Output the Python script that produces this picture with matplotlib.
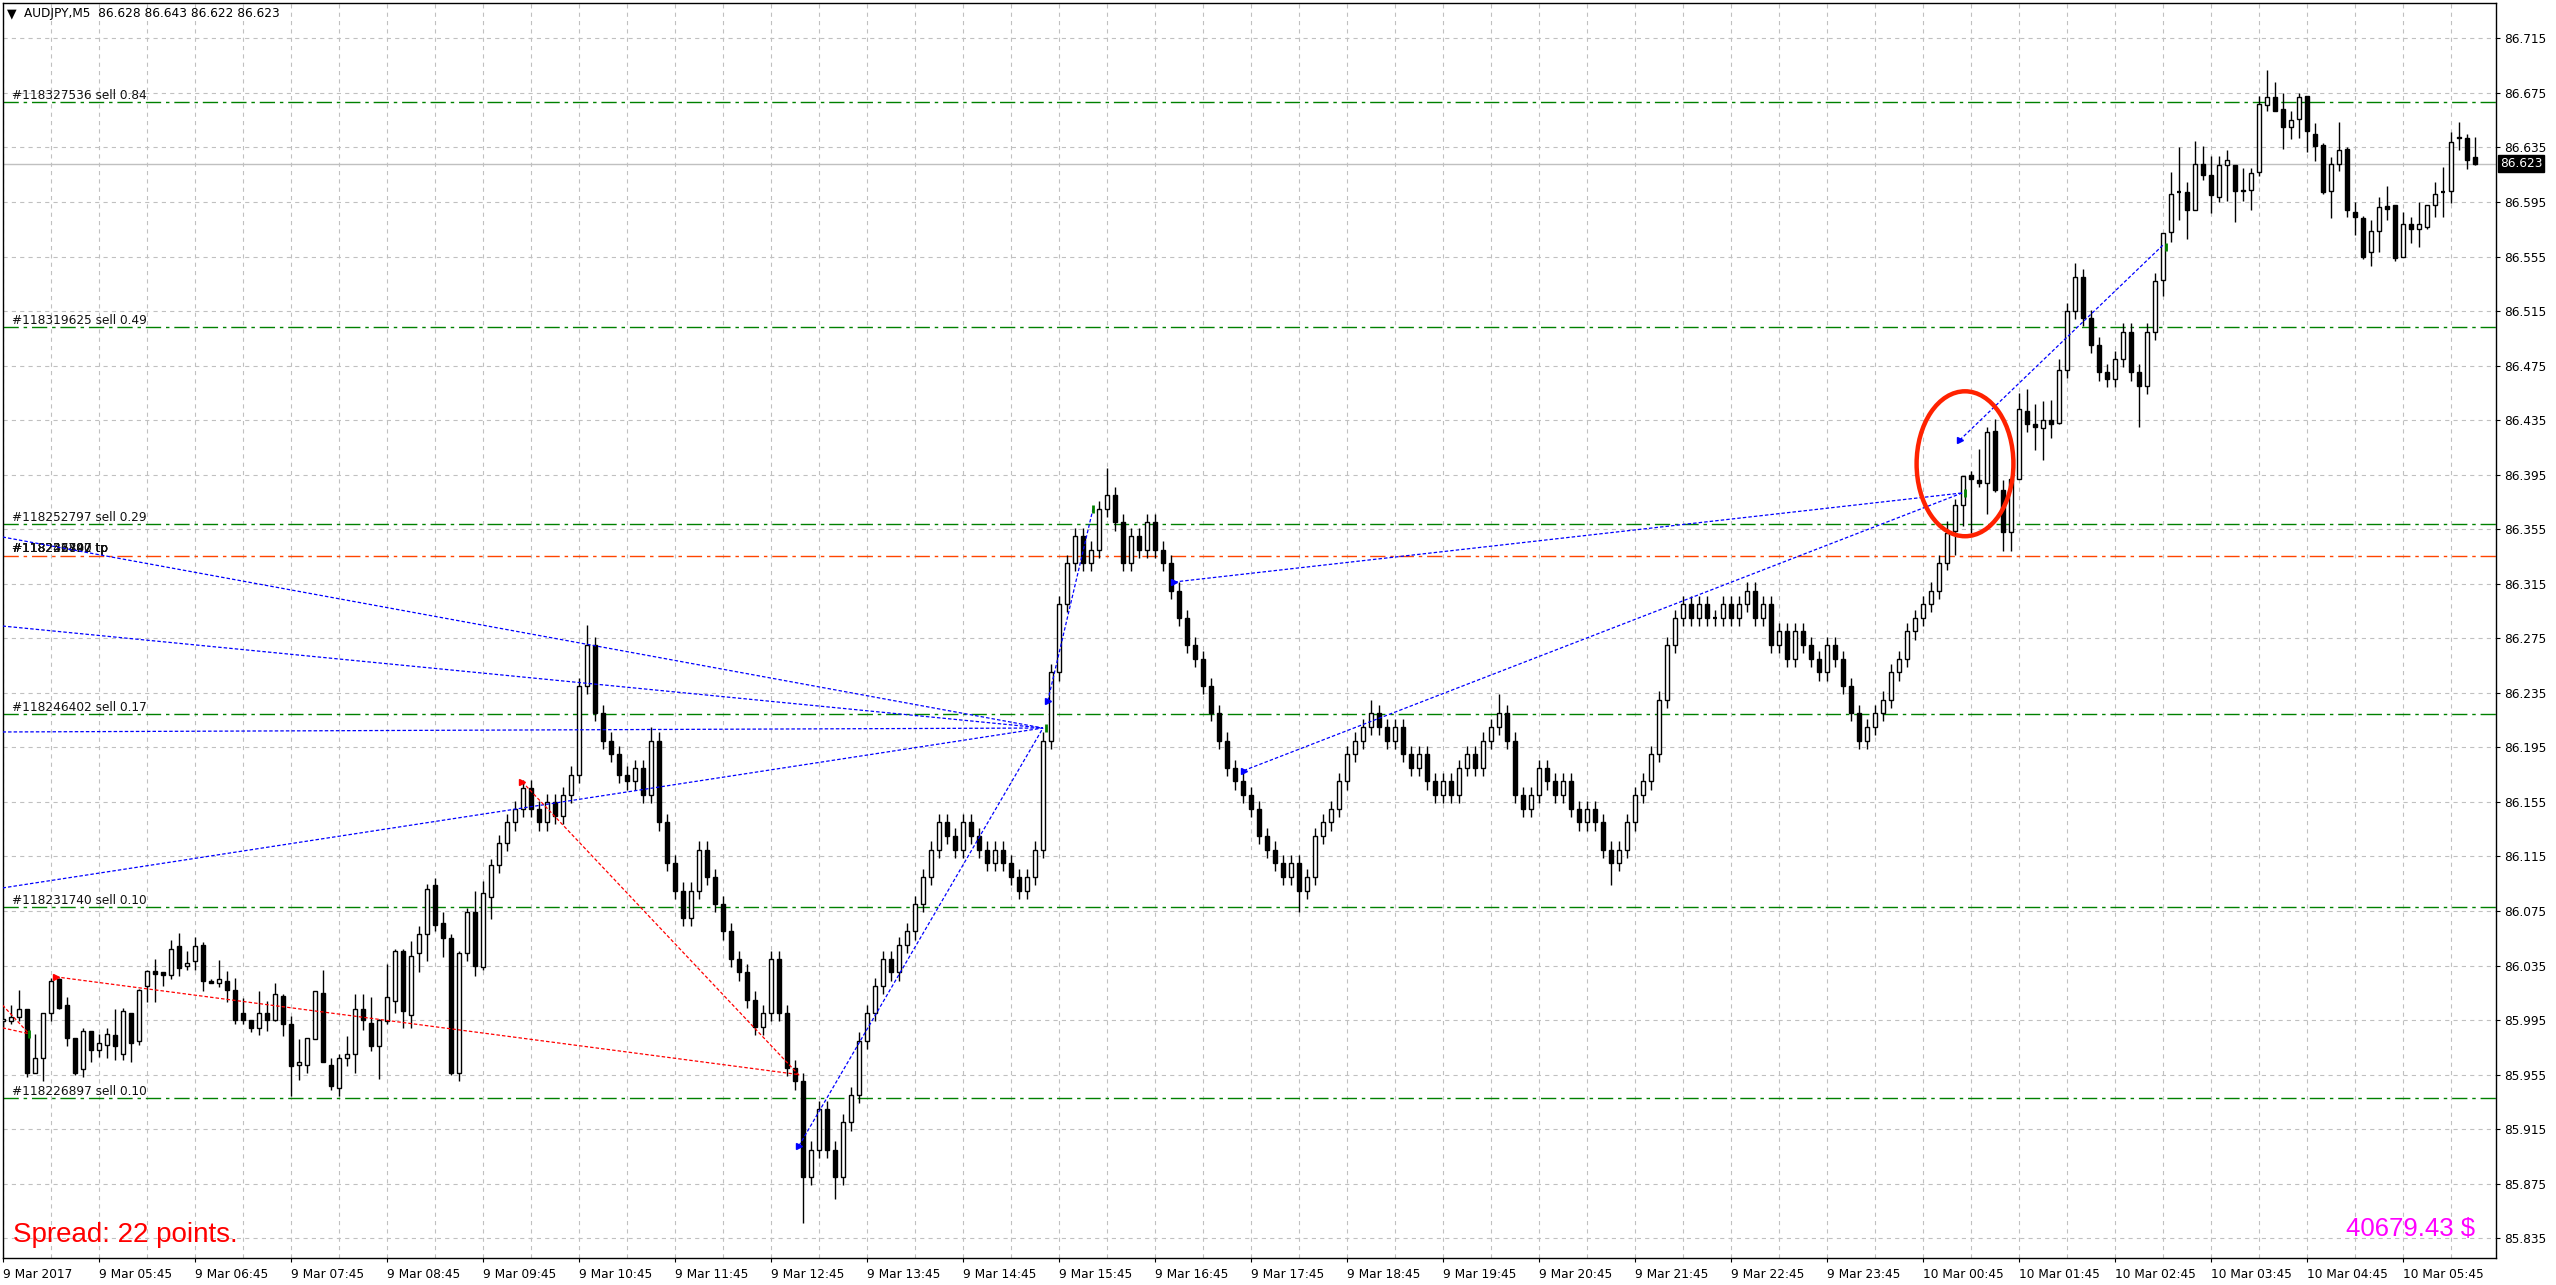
import matplotlib.pyplot as plt
from matplotlib.patches import Rectangle, Ellipse
from matplotlib.transforms import blended_transform_factory

plt.rcParams['lines.scale_dashes'] = False
plt.rcParams['font.family'] = 'DejaVu Sans'

# ---- data, one row per hour (12 M5 bars) ----
opens = [
    85.994, 85.994, 85.997, 86.003, 85.956, 85.967, 86.000, 86.025, 86.006, 85.982, 85.959, 85.987,
    85.973, 85.977, 85.984, 85.970, 86.000, 85.980, 86.020, 86.031, 86.030, 86.028, 86.049, 86.035,
    86.038, 86.050, 86.024, 86.022, 86.024, 86.017, 86.000, 85.995, 85.989, 86.000, 85.995, 86.013,
    85.992, 85.962, 85.962, 85.981, 86.015, 85.962, 85.945, 85.967, 85.970, 86.003, 85.993, 85.976,
    85.994, 86.009, 86.046, 85.999, 86.044, 86.058, 86.094, 86.066, 86.055, 85.956, 86.044, 86.074,
    86.034, 86.085, 86.109, 86.125, 86.140, 86.150, 86.165, 86.150, 86.140, 86.155, 86.145, 86.160,
    86.175, 86.240, 86.270, 86.220, 86.200, 86.190, 86.175, 86.170, 86.180, 86.160, 86.200, 86.140,
    86.110, 86.090, 86.070, 86.090, 86.120, 86.100, 86.080, 86.060, 86.040, 86.030, 86.010, 85.990,
    86.000, 86.040, 86.000, 85.960, 85.950, 85.880, 85.900, 85.930, 85.900, 85.880, 85.920, 85.940,
    85.980, 86.000, 86.020, 86.040, 86.030, 86.050, 86.060, 86.080, 86.100, 86.120, 86.140, 86.130,
    86.120, 86.140, 86.130, 86.120, 86.110, 86.120, 86.110, 86.100, 86.090, 86.100, 86.120, 86.200,
    86.250, 86.300, 86.330, 86.350, 86.330, 86.340, 86.370, 86.380, 86.360, 86.330, 86.350, 86.340,
    86.360, 86.340, 86.330, 86.310, 86.290, 86.270, 86.260, 86.240, 86.220, 86.200, 86.180, 86.170,
    86.160, 86.150, 86.130, 86.120, 86.110, 86.100, 86.110, 86.090, 86.100, 86.130, 86.140, 86.150,
    86.170, 86.190, 86.200, 86.210, 86.220, 86.210, 86.200, 86.210, 86.190, 86.180, 86.190, 86.170,
    86.160, 86.170, 86.160, 86.180, 86.190, 86.180, 86.200, 86.210, 86.220, 86.200, 86.160, 86.150,
    86.160, 86.180, 86.170, 86.160, 86.170, 86.150, 86.140, 86.150, 86.140, 86.120, 86.110, 86.120,
    86.140, 86.160, 86.170, 86.190, 86.230, 86.270, 86.290, 86.300, 86.290, 86.300, 86.290, 86.290,
    86.300, 86.290, 86.300, 86.310, 86.290, 86.300, 86.270, 86.280, 86.260, 86.280, 86.270, 86.260,
    86.250, 86.270, 86.260, 86.240, 86.220, 86.200, 86.210, 86.220, 86.230, 86.250, 86.260, 86.280,
    86.290, 86.300, 86.310, 86.330, 86.354, 86.373, 86.395, 86.391, 86.389, 86.427, 86.384, 86.353,
    86.392, 86.442, 86.432, 86.429, 86.435, 86.433, 86.472, 86.515, 86.540, 86.510, 86.490, 86.470,
    86.465, 86.480, 86.500, 86.470, 86.460, 86.500, 86.538, 86.573, 86.602, 86.602, 86.589, 86.623,
    86.615, 86.599, 86.622, 86.622, 86.604, 86.604, 86.617, 86.666, 86.672, 86.663, 86.650, 86.656,
    86.673, 86.645, 86.637, 86.603, 86.623, 86.634, 86.588, 86.583, 86.558, 86.574, 86.592, 86.593,
    86.555, 86.579, 86.575, 86.577, 86.593, 86.602, 86.603, 86.643, 86.642, 86.628,
]
highs = [
    86.005, 86.006, 86.017, 86.003, 85.985, 86.000, 86.026, 86.026, 86.012, 85.982, 85.989, 85.987,
    85.985, 85.989, 86.003, 86.004, 86.000, 86.018, 86.032, 86.040, 86.030, 86.054, 86.059, 86.046,
    86.056, 86.052, 86.025, 86.039, 86.031, 86.026, 86.011, 85.995, 86.016, 86.009, 86.022, 86.014,
    85.998, 85.981, 85.982, 86.016, 86.032, 85.967, 85.970, 85.983, 86.014, 86.014, 86.012, 85.996,
    86.036, 86.047, 86.047, 86.053, 86.064, 86.095, 86.099, 86.074, 86.058, 86.046, 86.077, 86.090,
    86.097, 86.113, 86.131, 86.146, 86.156, 86.171, 86.171, 86.156, 86.161, 86.161, 86.166, 86.181,
    86.246, 86.285, 86.276, 86.226, 86.206, 86.196, 86.181, 86.186, 86.186, 86.210, 86.206, 86.146,
    86.116, 86.096, 86.096, 86.126, 86.126, 86.106, 86.086, 86.066, 86.046, 86.036, 86.016, 86.006,
    86.046, 86.046, 86.006, 85.966, 85.956, 85.906, 85.936, 85.936, 85.906, 85.926, 85.946, 85.986,
    86.006, 86.026, 86.046, 86.046, 86.056, 86.066, 86.086, 86.106, 86.126, 86.146, 86.146, 86.136,
    86.146, 86.146, 86.136, 86.126, 86.126, 86.126, 86.116, 86.106, 86.106, 86.126, 86.206, 86.256,
    86.306, 86.336, 86.356, 86.356, 86.346, 86.376, 86.400, 86.386, 86.366, 86.356, 86.356, 86.366,
    86.366, 86.346, 86.336, 86.316, 86.296, 86.276, 86.266, 86.246, 86.226, 86.206, 86.186, 86.176,
    86.166, 86.156, 86.136, 86.126, 86.116, 86.116, 86.116, 86.106, 86.136, 86.146, 86.156, 86.176,
    86.196, 86.206, 86.216, 86.230, 86.226, 86.216, 86.216, 86.216, 86.196, 86.196, 86.196, 86.176,
    86.176, 86.176, 86.186, 86.196, 86.196, 86.206, 86.216, 86.234, 86.226, 86.206, 86.166, 86.166,
    86.186, 86.186, 86.176, 86.176, 86.176, 86.156, 86.156, 86.156, 86.146, 86.126, 86.126, 86.146,
    86.166, 86.176, 86.196, 86.236, 86.276, 86.296, 86.306, 86.306, 86.306, 86.306, 86.296, 86.306,
    86.306, 86.306, 86.316, 86.316, 86.306, 86.306, 86.286, 86.286, 86.286, 86.286, 86.276, 86.266,
    86.276, 86.276, 86.266, 86.246, 86.226, 86.216, 86.226, 86.236, 86.256, 86.266, 86.286, 86.296,
    86.306, 86.316, 86.336, 86.361, 86.377, 86.394, 86.398, 86.414, 86.430, 86.436, 86.391, 86.392,
    86.455, 86.458, 86.447, 86.449, 86.450, 86.480, 86.521, 86.550, 86.546, 86.516, 86.496, 86.476,
    86.486, 86.506, 86.506, 86.476, 86.506, 86.543, 86.572, 86.617, 86.635, 86.610, 86.640, 86.636,
    86.629, 86.629, 86.633, 86.622, 86.620, 86.620, 86.673, 86.692, 86.683, 86.675, 86.662, 86.675,
    86.673, 86.653, 86.638, 86.628, 86.654, 86.635, 86.595, 86.585, 86.582, 86.599, 86.607, 86.593,
    86.588, 86.584, 86.595, 86.593, 86.610, 86.621, 86.646, 86.654, 86.645, 86.643,
]
lows = [
    85.990, 85.992, 85.994, 85.953, 85.956, 85.950, 85.994, 86.003, 85.976, 85.955, 85.953, 85.964,
    85.968, 85.967, 85.966, 85.966, 85.964, 85.977, 86.008, 86.008, 86.020, 86.025, 86.027, 86.032,
    86.032, 86.016, 86.022, 86.019, 86.008, 85.992, 85.992, 85.986, 85.984, 85.987, 85.994, 85.983,
    85.939, 85.951, 85.956, 85.981, 85.964, 85.944, 85.939, 85.961, 85.956, 85.988, 85.972, 85.952,
    85.992, 86.000, 85.989, 85.989, 86.030, 86.038, 86.060, 86.041, 85.955, 85.950, 86.038, 86.027,
    86.032, 86.069, 86.103, 86.119, 86.134, 86.144, 86.144, 86.134, 86.134, 86.139, 86.139, 86.154,
    86.169, 86.234, 86.214, 86.194, 86.184, 86.169, 86.164, 86.164, 86.154, 86.154, 86.134, 86.104,
    86.084, 86.064, 86.064, 86.084, 86.094, 86.074, 86.054, 86.034, 86.024, 86.004, 85.984, 85.984,
    85.994, 85.994, 85.954, 85.944, 85.846, 85.874, 85.894, 85.894, 85.864, 85.874, 85.914, 85.934,
    85.974, 85.994, 86.014, 86.024, 86.024, 86.044, 86.054, 86.074, 86.094, 86.114, 86.124, 86.114,
    86.114, 86.124, 86.114, 86.104, 86.104, 86.104, 86.094, 86.084, 86.084, 86.094, 86.114, 86.194,
    86.244, 86.294, 86.324, 86.324, 86.324, 86.334, 86.364, 86.354, 86.324, 86.324, 86.334, 86.334,
    86.334, 86.324, 86.304, 86.284, 86.264, 86.254, 86.234, 86.214, 86.194, 86.174, 86.164, 86.154,
    86.144, 86.124, 86.114, 86.104, 86.094, 86.094, 86.074, 86.084, 86.094, 86.124, 86.134, 86.144,
    86.164, 86.184, 86.194, 86.204, 86.204, 86.194, 86.194, 86.184, 86.174, 86.174, 86.164, 86.154,
    86.154, 86.154, 86.154, 86.174, 86.174, 86.174, 86.194, 86.204, 86.194, 86.154, 86.144, 86.144,
    86.154, 86.164, 86.154, 86.154, 86.144, 86.134, 86.134, 86.134, 86.114, 86.094, 86.104, 86.114,
    86.134, 86.154, 86.164, 86.184, 86.224, 86.264, 86.284, 86.284, 86.284, 86.284, 86.284, 86.284,
    86.284, 86.284, 86.294, 86.284, 86.284, 86.264, 86.264, 86.254, 86.254, 86.264, 86.254, 86.244,
    86.244, 86.254, 86.234, 86.214, 86.194, 86.194, 86.204, 86.214, 86.224, 86.244, 86.254, 86.274,
    86.284, 86.294, 86.304, 86.325, 86.336, 86.357, 86.352, 86.386, 86.366, 86.382, 86.339, 86.339,
    86.392, 86.426, 86.413, 86.406, 86.422, 86.432, 86.466, 86.509, 86.504, 86.484, 86.464, 86.459,
    86.459, 86.474, 86.464, 86.430, 86.454, 86.494, 86.526, 86.566, 86.582, 86.568, 86.589, 86.611,
    86.587, 86.595, 86.596, 86.580, 86.596, 86.589, 86.614, 86.662, 86.662, 86.634, 86.641, 86.642,
    86.632, 86.625, 86.601, 86.583, 86.618, 86.584, 86.571, 86.553, 86.548, 86.558, 86.582, 86.552,
    86.555, 86.565, 86.562, 86.575, 86.584, 86.584, 86.594, 86.633, 86.619, 86.622,
]
closes = [
    85.996, 85.997, 86.003, 85.956, 85.967, 86.000, 86.024, 86.004, 85.982, 85.956, 85.987, 85.973,
    85.978, 85.985, 85.976, 86.002, 85.978, 86.017, 86.031, 86.029, 86.028, 86.047, 86.033, 86.037,
    86.049, 86.024, 86.022, 86.025, 86.017, 85.995, 85.995, 85.989, 86.000, 85.995, 86.014, 85.992,
    85.961, 85.964, 85.982, 86.016, 85.964, 85.947, 85.967, 85.970, 86.003, 85.995, 85.976, 85.995,
    86.012, 86.046, 86.002, 86.042, 86.058, 86.091, 86.065, 86.055, 85.956, 86.044, 86.074, 86.035,
    86.088, 86.109, 86.125, 86.140, 86.150, 86.165, 86.150, 86.140, 86.155, 86.145, 86.160, 86.175,
    86.240, 86.270, 86.220, 86.200, 86.190, 86.175, 86.170, 86.180, 86.160, 86.200, 86.140, 86.110,
    86.090, 86.070, 86.090, 86.120, 86.100, 86.080, 86.060, 86.040, 86.030, 86.010, 85.990, 86.000,
    86.040, 86.000, 85.960, 85.950, 85.880, 85.900, 85.930, 85.900, 85.880, 85.920, 85.940, 85.980,
    86.000, 86.020, 86.040, 86.030, 86.050, 86.060, 86.080, 86.100, 86.120, 86.140, 86.130, 86.120,
    86.140, 86.130, 86.120, 86.110, 86.120, 86.110, 86.100, 86.090, 86.100, 86.120, 86.200, 86.250,
    86.300, 86.330, 86.350, 86.330, 86.340, 86.370, 86.380, 86.360, 86.330, 86.350, 86.340, 86.360,
    86.340, 86.330, 86.310, 86.290, 86.270, 86.260, 86.240, 86.220, 86.200, 86.180, 86.170, 86.160,
    86.150, 86.130, 86.120, 86.110, 86.100, 86.110, 86.090, 86.100, 86.130, 86.140, 86.150, 86.170,
    86.190, 86.200, 86.210, 86.220, 86.210, 86.200, 86.210, 86.190, 86.180, 86.190, 86.170, 86.160,
    86.170, 86.160, 86.180, 86.190, 86.180, 86.200, 86.210, 86.220, 86.200, 86.160, 86.150, 86.160,
    86.180, 86.170, 86.160, 86.170, 86.150, 86.140, 86.150, 86.140, 86.120, 86.110, 86.120, 86.140,
    86.160, 86.170, 86.190, 86.230, 86.270, 86.290, 86.300, 86.290, 86.300, 86.290, 86.290, 86.300,
    86.290, 86.300, 86.310, 86.290, 86.300, 86.270, 86.280, 86.260, 86.280, 86.270, 86.260, 86.250,
    86.270, 86.260, 86.240, 86.220, 86.200, 86.210, 86.220, 86.230, 86.250, 86.260, 86.280, 86.290,
    86.300, 86.310, 86.330, 86.352, 86.373, 86.394, 86.392, 86.389, 86.426, 86.384, 86.353, 86.392,
    86.443, 86.432, 86.430, 86.435, 86.432, 86.472, 86.515, 86.540, 86.510, 86.490, 86.470, 86.465,
    86.480, 86.500, 86.470, 86.460, 86.500, 86.537, 86.572, 86.601, 86.602, 86.589, 86.623, 86.615,
    86.600, 86.622, 86.626, 86.603, 86.603, 86.616, 86.667, 86.672, 86.662, 86.650, 86.655, 86.672,
    86.647, 86.636, 86.602, 86.623, 86.633, 86.589, 86.584, 86.555, 86.574, 86.591, 86.590, 86.554,
    86.579, 86.575, 86.579, 86.593, 86.601, 86.602, 86.639, 86.642, 86.626, 86.623,
]

hour_labels = ["9 Mar 2017", "9 Mar 05:45", "9 Mar 06:45", "9 Mar 07:45", "9 Mar 08:45", "9 Mar 09:45",
               "9 Mar 10:45", "9 Mar 11:45", "9 Mar 12:45", "9 Mar 13:45", "9 Mar 14:45", "9 Mar 15:45",
               "9 Mar 16:45", "9 Mar 17:45", "9 Mar 18:45", "9 Mar 19:45", "9 Mar 20:45", "9 Mar 21:45",
               "9 Mar 22:45", "9 Mar 23:45", "10 Mar 00:45", "10 Mar 01:45", "10 Mar 02:45", "10 Mar 03:45",
               "10 Mar 04:45", "10 Mar 05:45"]
price_ticks = [85.835 + 0.04 * k for k in range(23)]

order_levels = [86.668, 86.503, 86.359, 86.2195, 86.078, 85.9377]
order_labels = ["#118327536 sell 0.84", "#118319625 sell 0.49", "#118252797 sell 0.29",
                "#118246402 sell 0.17", "#118231740 sell 0.10", "#118226897 sell 0.10"]
tp_level = 86.335
tp_labels = ["#118252797 tp", "#118246402 tp", "#118231740 tp", "#118226897 tp"]
last_price = 86.623

# trade history lines: (bar0, price0, bar1, price1)
blue_trades = [(-0.06, 86.3493, 130.0, 86.2092), (-0.06, 86.2840, 130.0, 86.2092),
               (-0.06, 86.2063, 130.0, 86.2092), (-0.06, 86.0919, 130.0, 86.2092),
               (99.5, 85.9028, 130.0, 86.2092), (130.6, 86.2291, 136.25, 86.3699),
               (146.4, 86.3163, 244.9, 86.3816), (155.1, 86.1780, 244.9, 86.3816),
               (244.6, 86.4204, 270.0, 86.5634)]
red_trades = [(6.6, 86.0267, 99.5, 85.9550), (64.9, 86.1697, 99.5, 85.9546),
              (-0.06, 86.0060, 3.25, 85.9850), (-0.06, 85.9893, 3.25, 85.9850)]
blue_opens = [(99.5, 85.9028), (130.6, 86.2291), (146.4, 86.3163), (155.1, 86.1780), (244.6, 86.4204)]
red_opens = [(6.6, 86.0267), (64.9, 86.1697)]
close_marks = [(3.25, 85.985), (130.4, 86.2092), (136.25, 86.3699), (245.3, 86.3816), (270.4, 86.562)]

# ---- figure ----
W, H = 2556, 1285
fig = plt.figure(figsize=(W / 100, H / 100), dpi=100)
ax = fig.add_axes([2.5 / W, 27 / H, 2493.5 / W, 1255.5 / H])
ax.set_xlim(-0.0625, 311.625)
ax.set_ylim(85.8205, 86.7413)

for i in range(len(opens)):
    o, h, l, c = opens[i], highs[i], lows[i], closes[i]
    ax.vlines(i, l, h, color='black', lw=1.0, zorder=3)
    if abs(c - o) < 0.0009:
        ax.hlines(o, i - 0.3, i + 0.3, color='black', lw=1.6, zorder=4)
    else:
        ax.add_patch(Rectangle((i - 0.27, min(o, c)), 0.54, abs(c - o),
                               facecolor='black' if c < o else 'white',
                               edgecolor='black', lw=1.0, zorder=4))

# axes, ticks, grid
ax.set_xticks(range(0, 301, 12))
ax.set_xticks(range(6, 312, 12), minor=True)
ax.set_xticklabels(hour_labels, ha='left')
ax.set_yticks(price_ticks)
ax.set_yticklabels([f"{p:.3f}" for p in price_ticks])
ax.grid(which='both', color='#c0c0c0', lw=0.8, linestyle=(0, (3, 3)), zorder=0)
ax.set_axisbelow(True)
ax.yaxis.tick_right()
ax.tick_params(axis='y', which='major', direction='out', length=3, width=0.8, labelsize=8.7, pad=3)
ax.tick_params(axis='x', which='major', direction='out', length=3, width=0.8, labelsize=8.7, pad=4)
ax.tick_params(axis='x', which='minor', length=0)
for s in ax.spines.values():
    s.set_linewidth(1.0)

# order levels
trans = blended_transform_factory(ax.transAxes, ax.transData)
dashdot = (0, (11, 3.5, 2.5, 3.5))
for lvl, lab in zip(order_levels, order_labels):
    ax.axhline(lvl, color='#008000', lw=1.0, linestyle=dashdot, zorder=1.5)
    ax.annotate(lab, xy=(0.0037, lvl), xycoords=trans, xytext=(0, 3), textcoords='offset pixels',
                fontsize=8.7, va='baseline', ha='left', color='#111111')
ax.axhline(tp_level, color='#ff4500', lw=1.0, linestyle=dashdot, zorder=1.5)
for lab in tp_labels:
    ax.annotate(lab, xy=(0.0037, tp_level), xycoords=trans, xytext=(0, 4), textcoords='offset pixels',
                fontsize=8.7, va='baseline', ha='left', color='#111111')
ax.axhline(last_price, color='#c0c0c0', lw=1.0, zorder=1.2)
ax.annotate(f"{last_price:.3f}", xy=(1.0, last_price), xycoords=trans, xytext=(4, 0),
            textcoords='offset pixels', fontsize=8.7, va='center', ha='left', color='white',
            bbox=dict(boxstyle='square,pad=0.15', facecolor='black', edgecolor='black'),
            annotation_clip=False)

# trade history
for i0, p0, i1, p1 in blue_trades:
    ax.plot([i0, i1], [p0, p1], color='#0000ff', lw=0.9, linestyle=(0, (2.5, 1.5)), zorder=5)
for i0, p0, i1, p1 in red_trades:
    ax.plot([i0, i1], [p0, p1], color='#ff0000', lw=0.9, linestyle=(0, (2.5, 1.5)), zorder=5)
ax.plot([p[0] for p in blue_opens], [p[1] for p in blue_opens], ls='none', marker='>',
        ms=5, color='#0000ff', zorder=6)
ax.plot([p[0] for p in red_opens], [p[1] for p in red_opens], ls='none', marker='>',
        ms=5, color='#ff0000', zorder=6)
ax.plot([p[0] for p in close_marks], [p[1] for p in close_marks], ls='none', marker='|',
        ms=6, mew=2, color='#008000', zorder=6)

ax.add_patch(Ellipse((245.25, 86.403), 12.1, 0.1063, fill=False, edgecolor='#ff2200', lw=3.2, zorder=7))

# header and info texts
fig.text(7 / W, 1 - 14 / H, "\u25bc", fontsize=9, va='center', ha='left')
fig.text(24 / W, 1 - 14 / H, "AUDJPY,M5  86.628 86.643 86.622 86.623", fontsize=8.7, va='center', ha='left')
fig.text(12.6 / W, 43 / H, "Spread: 22 points.", fontsize=20, color='#ff0000',
         family='Liberation Sans', va='baseline', ha='left')
fig.text(2475 / W, 49 / H, "40679.43 $", fontsize=18.5, color='#ff00ff',
         family='Liberation Sans', va='baseline', ha='right')

fig.savefig('out.png', dpi=100)
